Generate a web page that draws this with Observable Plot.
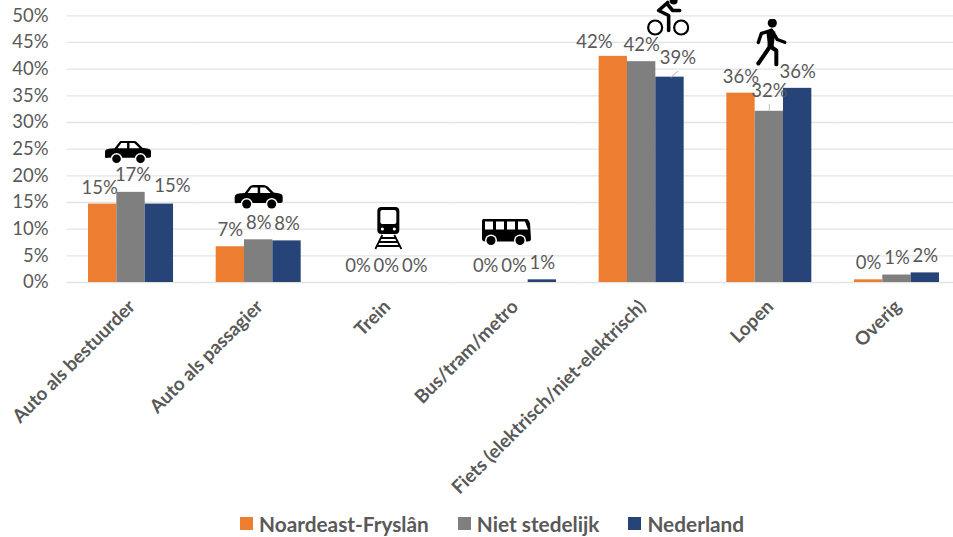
<!DOCTYPE html>
<html><head><meta charset="utf-8">
<script src="https://cdn.jsdelivr.net/npm/d3@7"></script>
<script src="https://cdn.jsdelivr.net/npm/@observablehq/plot@0.6"></script>
<style>
html,body{margin:0;padding:0;background:#fff;overflow:hidden;width:953px;height:537px}
svg{display:block;overflow:hidden}
#legend{position:relative;height:27px;font:700 20.8px Lato,sans-serif;color:#595959;display:flex;align-items:center;padding-left:240px;box-sizing:border-box}
#legend span.k{display:inline-block;width:13px;height:13px;margin-right:6px}
#legend span.t{white-space:nowrap;margin-right:29px}
</style></head><body>
<div id="chart"></div><div id="legend"></div>
<script>
const categories = ["Auto als bestuurder","Auto als passagier","Trein","Bus/tram/metro","Fiets (elektrisch/niet-elektrisch)","Lopen","Overig"];
const series = ["Noardeast-Fryslân","Niet stedelijk","Nederland"];
const colors = ["#ED7D31","#7F7F7F","#264478"];
const noardeast = [14.7,6.7,0,0,42.4,35.5,0.5];
const nietStedelijk = [16.9,8.0,0,0,41.4,32.1,1.4];
const nederland = [14.7,7.8,0,0.5,38.5,36.4,1.8];
const labelsNoardeast = ["15%","7%","0%","0%","42%","36%","0%"];
const labelsNiet = ["17%","8%","0%","0%","42%","32%","1%"];
const labelsNederland = ["15%","8%","0%","1%","39%","36%","2%"];

const rows = categories.flatMap((c,i)=>[
  {c,s:series[0],v:noardeast[i],l:labelsNoardeast[i]},
  {c,s:series[1],v:nietStedelijk[i],l:labelsNiet[i]},
  {c,s:series[2],v:nederland[i],l:labelsNederland[i]}]);

// Hand-placed label nudges, as in the original spreadsheet chart
const nudge = {
  "Auto als bestuurder|Noardeast-Fryslân":[-3,-16],
  "Auto als bestuurder|Niet stedelijk":[2,-17],
  "Auto als bestuurder|Nederland":[13,-18],
  "Fiets (elektrisch/niet-elektrisch)|Noardeast-Fryslân":[-19,-14],
  "Fiets (elektrisch/niet-elektrisch)|Nederland":[8,-19],
  "Lopen|Niet stedelijk":[0,-20]
};
const labelMarks = d3.groups(rows,d=>{const n=nudge[d.c+"|"+d.s];return n?n.join():"0,-16.5";}).map(([k,g])=>{
  const [dx,dy]=k.split(",").map(Number);
  return Plot.text(g,{fx:"c",x:"s",y:"v",text:"l",dx,dy,fill:"#595959",fontSize:18.5,fontFamily:"Lato, sans-serif"});
});

const uri = (w,h,body)=>"data:image/svg+xml,"+encodeURIComponent(`<svg xmlns="http://www.w3.org/2000/svg" viewBox="0 0 ${w} ${h}" width="${w}" height="${h}">${body}</svg>`);
const carShape = uri(48,25,`<path d="M0 17V12Q0 9 4 8.5L10 8 15 1.5Q16 0 19 0H29Q31 0 33 1.5L39 7.5 45 8.5Q48 9 48 12V16Q48 18 46 18H3Q0 19 0 17Z"/><path fill="#fff" d="M17 2.5H23V8H13ZM25.5 2.5H30.5L36 8H25.5Z"/><circle cx="12" cy="19" r="6" fill="#fff"/><circle cx="12" cy="19" r="4.5"/><circle cx="37" cy="19" r="6" fill="#fff"/><circle cx="37" cy="19" r="4.5"/>`);
const trainShape = uri(28,43,`<rect x="3" y="0" width="22" height="27" rx="4"/><rect x="6" y="3" width="16" height="14" rx="2" fill="#fff"/><circle cx="8" cy="22" r="1.6" fill="#fff"/><circle cx="20" cy="22" r="1.6" fill="#fff"/><path d="M8 28L1 42M20 28L27 42M6 31H22M4.5 35H23.5M2.5 39H25.5" fill="none" stroke="#000" stroke-width="1.8"/>`);
const busShape = uri(49,28,`<path d="M3 0H43Q47 0 48 5L49 20Q49 23 46 23H3Q0 23 0 20V3Q0 0 3 0Z"/><path fill="#fff" d="M3 3H11V11H3ZM14 3H22V11H14ZM25 3H33V11H25ZM36 3H43L46 11H36Z"/><circle cx="9" cy="22" r="6" fill="#fff"/><circle cx="9" cy="22" r="4.5"/><circle cx="38" cy="22" r="6" fill="#fff"/><circle cx="38" cy="22" r="4.5"/>`);
const bikeShape = uri(43,38,`<circle cx="8.5" cy="29" r="7" fill="none" stroke="#000" stroke-width="2.2"/><circle cx="34.5" cy="29" r="7" fill="none" stroke="#000" stroke-width="2.2"/><circle cx="27" cy="2" r="4"/><path d="M21 4L12 12 22 17V32M21 6L26 12H33" fill="none" stroke="#000" stroke-width="3.6" stroke-linecap="round" stroke-linejoin="round"/>`);
const walkShape = uri(32,48,`<circle cx="18" cy="4.6" r="4.6"/><path d="M17 12L15 29 4 45M16 28L22 32 22 46" fill="none" stroke="#000" stroke-width="4" stroke-linecap="round" stroke-linejoin="round"/><path d="M17 12L7 15 4 24M18 13L23 21 31 24" fill="none" stroke="#000" stroke-width="3.4" stroke-linecap="round" stroke-linejoin="round"/><path d="M12 13H21L19 30H14Z"/>`);

const iconMark = (c,src,width,height,dx,dy)=>Plot.image([c],{fx:d=>d,frameAnchor:"bottom",src:()=>src,width,height,dx,dy});

const H = 510;
const plot = Plot.plot({
  width:953,height:H,
  marginLeft:66.7,marginRight:-7.3,marginTop:15.3,marginBottom:H-282,
  fx:{domain:categories,paddingInner:0.334,paddingOuter:0.167,round:false,label:null,axis:null},
  x:{domain:series,padding:0,round:false,axis:null},
  y:{domain:[0,50],label:null,axis:null},
  color:{domain:series,range:colors},
  marks:[
    Plot.ruleY(d3.range(0,51,5),{stroke:"#e4e4e4",strokeWidth:1.3,insetLeft:-21.4,insetRight:-21.4}),
    Plot.axisY({ticks:d3.range(0,51,5),tickFormat:d=>d+"%",tickSize:0,tickPadding:40,fontSize:18.5,fontFamily:"Lato, sans-serif",fill:"#595959",label:null}),
    Plot.barY(rows,{fx:"c",x:"s",y:"v",fill:"s",inset:0}),
    ...labelMarks,
    Plot.ruleX(["Niet stedelijk"],{fx:()=>"Lopen",x:d=>d,y1:()=>32.1,y2:()=>33.4,stroke:"#bfbfbf"}),
    Plot.vector(["Nederland"],{fx:()=>categories[4],x:d=>d,y:()=>38.5,length:9,rotate:50,anchor:"start",stroke:"#bfbfbf",strokeWidth:1,shape:{draw(ctx,l){ctx.moveTo(0,0);ctx.lineTo(0,-l);}},dx:1}),
    Plot.axisFx({domain:categories,anchor:"bottom",tickSize:0,tickRotate:-45,tickPadding:21,fontSize:18.8,fontWeight:700,fontFamily:"Lato, sans-serif",fill:"#595959",label:null,textAnchor:"end",dx:1}),
    iconMark(categories[0],carShape,47,24,-3,-130),
    iconMark(categories[1],carShape,50,25,0,-85),
    iconMark(categories[2],trainShape,28,43,2,-54),
    iconMark(categories[3],busShape,49,28,-7.5,-50),
    iconMark(categories[4],bikeShape,43,38,26.5,-265),
    iconMark(categories[5],walkShape,32,48,1,-240)
  ]
});
document.getElementById("chart").append(plot);
const lg=document.getElementById("legend");
series.forEach((s,i)=>{
  const k=document.createElement("span");k.className="k";k.style.background=colors[i];
  const t=document.createElement("span");t.className="t";t.textContent=s;
  lg.append(k,t);
});
</script></body></html>
